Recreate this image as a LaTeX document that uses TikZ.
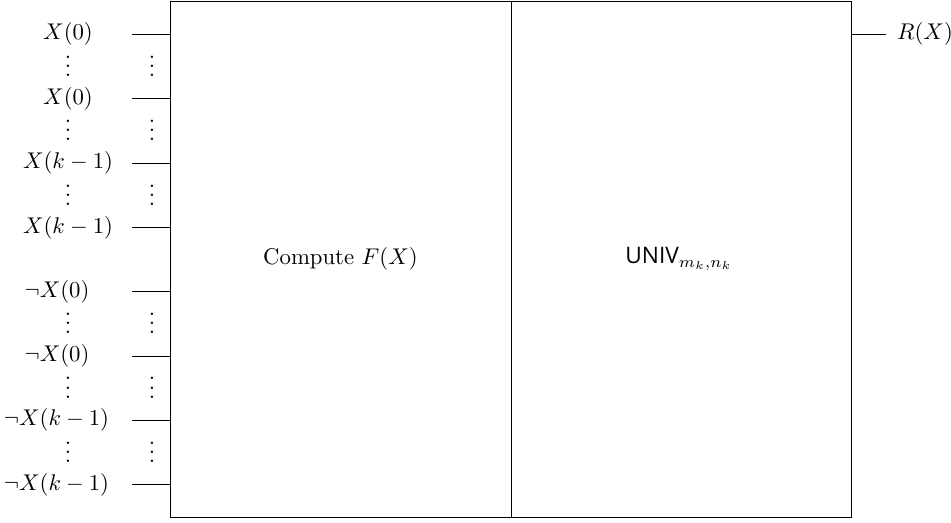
\documentclass[tikz,border=0pt]{standalone}
\usepackage{fontspec}
\newfontfamily\univfont{Open Sans}
\begin{document}
\begin{tikzpicture}[x=0.44pt,y=-0.44pt,
  blk/.style={draw, outer sep=0pt, inner sep=0pt, anchor=north west, minimum height=516*0.44pt},
  lbl/.style={inner sep=1pt},
  vd/.style={inner sep=0pt}]
\useasboundingbox (0,0) rectangle (951,523);
\node[blk, minimum width=341*0.44pt] (f) at (170,1) {};
\node[blk, minimum width=340*0.44pt] (u) at (511,1) {};
\node (ft) at (340.5,259) {Compute $F(X)$};
\node (ut) at (679,259) {\mbox{\univfont UNIV}$_{m_k,n_k}$};
\foreach \n/\y/\t/\cx in {1/34/{X(0)}/68, 2/98.5/{X(0)}/68, 3/163/{X(k-1)}/68, 4/227.5/{X(k-1)}/68,
  5/291.5/{\neg X(0)}/57, 6/356/{\neg X(0)}/57, 7/420/{\neg X(k-1)}/56.5, 8/484.5/{\neg X(k-1)}/56.5}{
  \coordinate (i\n) at (132,\y);
  \node[lbl] (l\n) at (\cx,\y) {$\t$};
  \draw (i\n) -- (i\n -| f.west);
}
\foreach \m in {66.25, 130.75, 195.25, 323.75, 388, 452.25}{
  \node[vd] at (68,\m-7) {$\vdots$};
  \node[vd] at (152,\m-7) {$\vdots$};
}
\coordinate (o) at (886,34);
\draw (o -| u.east) -- (o);
\node[lbl] (r) at (925,34) {$R(X)$};
\end{tikzpicture}
\end{document}
